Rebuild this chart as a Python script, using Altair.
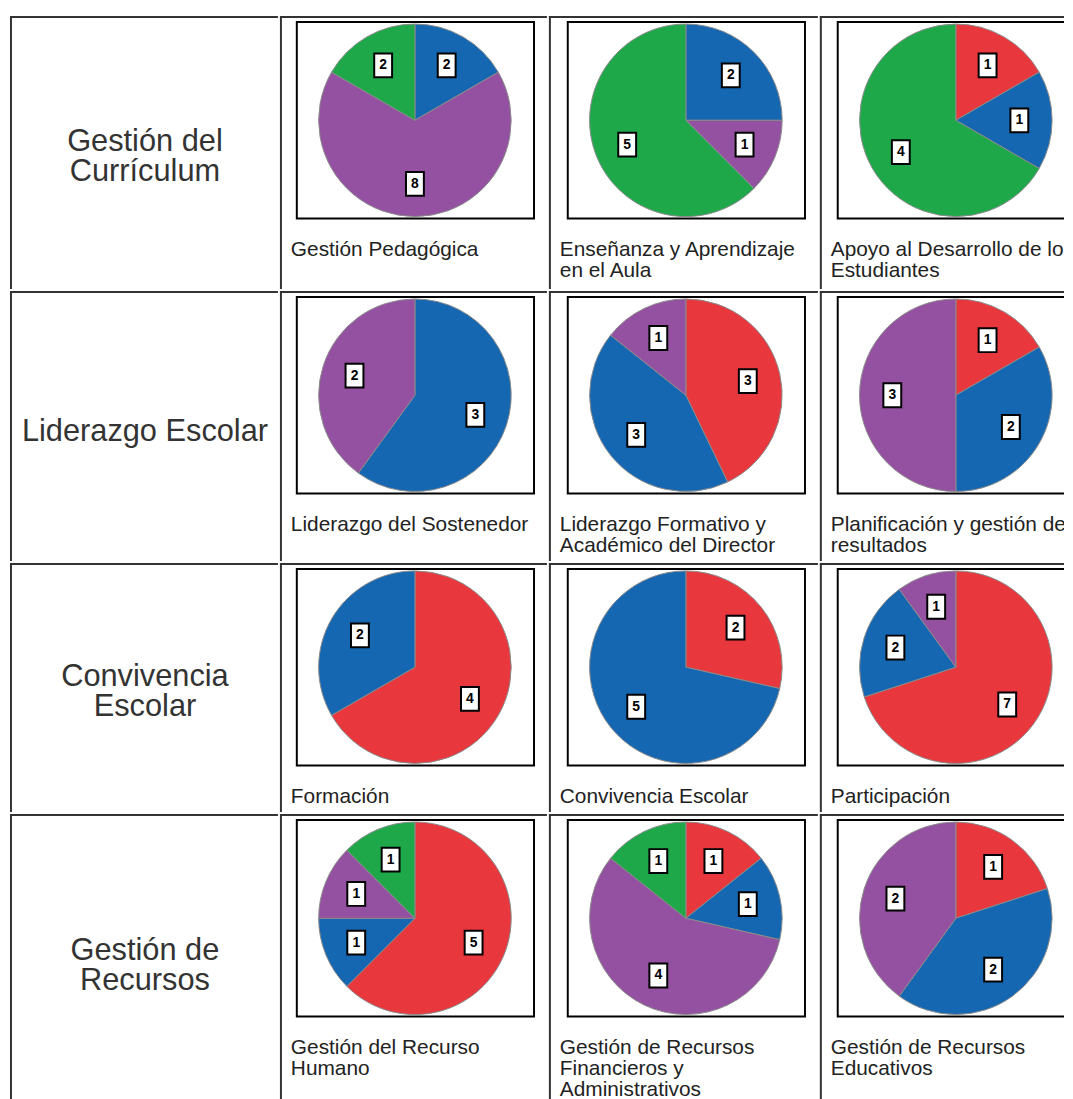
import altair as alt
import pandas as pd

FONT = "Liberation Sans"

row_labels = ["Gestión del\nCurrículum", "Liderazgo Escolar", "Convivencia\nEscolar", "Gestión de\nRecursos"]
pie_titles = [
    ["Gestión Pedagógica", "Enseñanza y Aprendizaje\nen el Aula", "Apoyo al Desarrollo de los\nEstudiantes"],
    ["Liderazgo del Sostenedor", "Liderazgo Formativo y\nAcadémico del Director", "Planificación y gestión de\nresultados"],
    ["Formación", "Convivencia Escolar", "Participación"],
    ["Gestión del Recurso\nHumano", "Gestión de Recursos\nFinancieros y\nAdministrativos", "Gestión de Recursos\nEducativos"],
]
categories = ["rojo", "azul", "morado", "verde"]
red_counts = [[0, 0, 1], [0, 3, 1], [4, 2, 7], [5, 1, 1]]
blue_counts = [[2, 2, 1], [3, 3, 2], [2, 5, 2], [1, 1, 2]]
purple_counts = [[8, 1, 0], [2, 1, 3], [0, 0, 1], [1, 4, 2]]
green_counts = [[2, 5, 4], [0, 0, 0], [0, 0, 0], [1, 1, 0]]
colors = ["#e8373d", "#1667b1", "#9451a1", "#1fa84a"]

# layout constants (styling only)
ROW_H = [275, 272, 251, 289]
COL_W = [270, 269, 271, 246]
COL_DX = [0, 2, 1]
LABEL_Y = [142, 142, 130, 153]
FX0, FX1, FY0, FY1 = 17, 256, 6, 204
CX, CY, R, LR = 136, 105, 97, 64
LINE = "#333333"
LH = 30

recs = []
series = [red_counts, blue_counts, purple_counts, green_counts]
for r in range(4):
    for c in range(3):
        for k, cat in enumerate(categories):
            recs.append(dict(pie=r * 3 + c, title=pie_titles[r][c], cat=cat, ord=k, value=series[k][r][c]))
df = pd.DataFrame(recs)
rows_df = pd.DataFrame({"row": list(range(4)), "label": row_labels})


def borders(one, w, h):
    left = one.mark_rule(stroke=LINE, strokeWidth=2).encode(
        x=alt.value(1), y=alt.value(0), y2=alt.value(h))
    top = one.mark_rule(stroke=LINE, strokeWidth=2).encode(
        y=alt.value(1), x=alt.value(0), x2=alt.value(w))
    return [left, top]


def pie_cell(k, c, w, h):
    dx = COL_DX[c]
    cx = CX + dx
    base = alt.Chart(df).transform_filter(alt.datum.pie == k)
    one = base.transform_aggregate(n="count()", groupby=["title"])
    frame = one.mark_rect(fill="white", stroke="black", strokeWidth=2, clip=True).encode(
        x=alt.value(FX0 + dx), x2=alt.value(FX1 + dx), y=alt.value(FY0), y2=alt.value(FY1))
    arcs = base.transform_filter(alt.datum.value > 0).mark_arc(
        radius=R, stroke="#8a8a8a", strokeWidth=1
    ).encode(
        theta=alt.Theta("value:Q", stack="normalize"),
        color=alt.Color("cat:N", scale=alt.Scale(domain=categories, range=colors), legend=None),
        order=alt.Order("ord:Q"),
        x=alt.value(cx),
        y=alt.value(CY),
    )
    lab = (
        base.transform_filter(alt.datum.value > 0)
        .transform_joinaggregate(total="sum(value)")
        .transform_window(cum="sum(value)", sort=[alt.SortField("ord")], frame=[None, 0])
        .transform_calculate(mid="(datum.cum - datum.value / 2) / datum.total * 2 * PI")
        .transform_calculate(bx=f"{cx} + {LR} * sin(datum.mid)")
        .transform_calculate(by=f"{CY} - {LR} * cos(datum.mid)")
        .transform_calculate(bx0="datum.bx - 9", bx1="datum.bx + 9")
        .transform_calculate(by0="datum.by - 12", by1="datum.by + 12")
    )
    boxes = lab.mark_rect(fill="white", stroke="black", strokeWidth=2).encode(
        x=alt.X("bx0:Q", scale=None), x2="bx1:Q",
        y=alt.Y("by0:Q", scale=None), y2="by1:Q",
    )
    nums = lab.mark_text(font=FONT, fontWeight="bold", fontSize=14, color="black",
                         align="center", baseline="middle").encode(
        x=alt.X("bx:Q", scale=None), y=alt.Y("by:Q", scale=None), text="value:Q"
    )
    title = one.mark_text(
        align="left", baseline="alphabetic", fontSize=21, lineHeight=21, lineBreak="\n",
        font=FONT, color="#222222", clip=True
    ).encode(x=alt.value(11), y=alt.value(242), text="title:N")
    return alt.layer(frame, arcs, boxes, nums, title, *borders(one, w, h)).properties(width=w, height=h)


def row_cell(r, w, h):
    one = alt.Chart(rows_df).transform_filter(alt.datum.row == r)
    n_extra = row_labels[r].count("\n")
    label = one.mark_text(
        fontSize=31, lineHeight=LH, lineBreak="\n", align="center", baseline="middle",
        font=FONT, color="#333333"
    ).encode(x=alt.value(136), y=alt.value(LABEL_Y[r] - n_extra * LH / 2), text="label:N")
    return alt.layer(label, *borders(one, w, h)).properties(width=w, height=h)


rows = []
for r in range(4):
    h = ROW_H[r]
    cells = [row_cell(r, COL_W[0], h)] + [pie_cell(r * 3 + c, c, COL_W[c + 1], h) for c in range(3)]
    rows.append(alt.hconcat(*cells, spacing=0))

chart = (
    alt.vconcat(*rows, spacing=0)
    .properties(padding={"left": 1, "top": 3, "right": 0, "bottom": 0}, background="white")
    .configure_view(stroke=None)
)

chart.save("out.html", embed_options={"renderer": "svg", "actions": False})
